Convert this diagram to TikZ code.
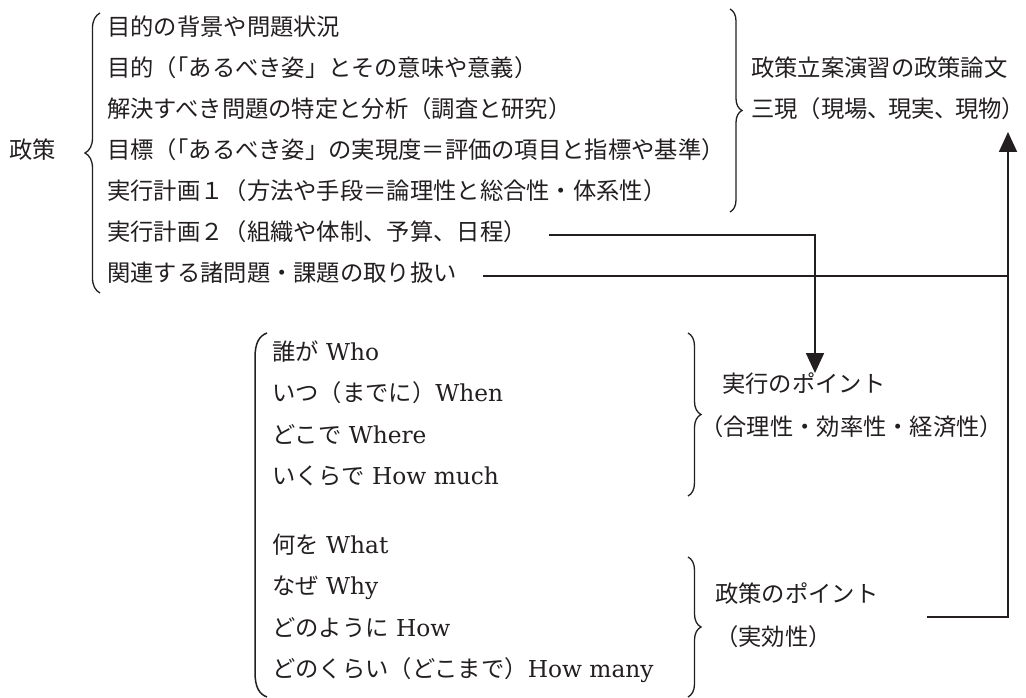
\documentclass[tikz,border=0pt]{standalone}
\usepackage{fontspec}
\setmainfont{DejaVu Serif}
\newfontfamily\jp{Noto Sans CJK JP}
\usetikzlibrary{arrows.meta,decorations.pathreplacing}
\definecolor{ink}{RGB}{35,31,32}
\begin{document}
\begin{tikzpicture}[x=1pt,y=-1pt,
  txt/.style={inner sep=0pt, anchor=west, text height=1.15em, text depth=0.1em,
    font=\fontsize{23.3}{27}\selectfont, text=ink},
  conn/.style={draw=ink, line width=1.7pt},
  arr/.style={conn, -{Triangle[length=20pt,width=18pt]}},
  brc/.style={draw=ink, line width=1.3pt, decorate, decoration={brace, amplitude=#1}},
  paren/.style={draw=ink, line width=1.5pt}
]
\fill[white] (0,0) rectangle (1026,698);
\useasboundingbox (0,0) rectangle (1026,698);

% top block
\node[txt] (seisaku) at (9,153) {\jp 政策};
\node[txt] (l1) at (107,30) {\jp 目的の背景や問題状況};
\node[txt] (l2) at (107,71) {\jp 目的（\kern-0.5em「あるべき姿」とその意味や意義）};
\node[txt] (l3) at (107,112) {\jp 解決すべき問題の特定と分析（調査と研究）};
\node[txt] (l4) at (107,153) {\jp 目標（\kern-0.5em「あるべき姿」の実現度＝評価の項目と指標や基準）};
\node[txt] (l5) at (107,194) {\jp 実行計画１（方法や手段＝論理性と総合性・体系性）};
\node[txt] (l6) at (107,235) {\jp 実行計画２（組織や体制、予算、日程）};
\node[txt] (l7) at (107,276) {\jp 関連する諸問題・課題の取り扱い};

\node[txt] (r1) at (751,71) {\jp 政策立案演習の政策論文};
\node[txt] (r2) at (751,112) {\jp 三現（現場、\kern-0.12em 現実、\kern-0.12em 現物\makebox[0.5em][l]{）}};

\draw[brc=15] (100,293) -- (100,13);
\draw[brc=12] (730,9) -- (730,212);

% middle block
\node[txt] (m1) at (272,355) {{\jp 誰が} Who};
\node[txt] (m2) at (272,396.5) {{\jp いつ（までに）}When};
\node[txt] (m3) at (272,438) {{\jp どこで} Where};
\node[txt] (m4) at (272,479) {{\jp いくらで} How much};
\node[txt] (m5) at (272,548) {{\jp 何を} What};
\node[txt] (m6) at (272,589.5) {{\jp なぜ} Why};
\node[txt] (m7) at (272,631) {{\jp どのように} How};
\node[txt] (m8) at (272,672.5) {{\jp どのくらい（どこまで）}How many};

\node[txt] (p1) at (722,387) {\jp 実行のポイント};
\node[txt] (p1b) at (700,430) {\jp （合理性・効率性・経済性）};
\node[txt] (p2) at (715,597) {\jp 政策のポイント};
\node[txt] (p2b) at (715,640) {\jp （実効性）};

\draw[paren] (267,333) .. controls (259,336) and (255,343) .. (255,358) -- (255,672)
  .. controls (255,687) and (259,694) .. (267,697);
\draw[brc=13] (688,333) -- (688,496);
\draw[brc=13] (688,557) -- (688,697);

% connectors
\coordinate (jx1) at (815,0);
\coordinate (jx2) at (1008,0);
\coordinate (s2) at (927,617);
\draw[arr] ([xshift=22pt]l6.east) -| ([yshift=14pt]jx1 |- p1.center);
\draw[conn] ([xshift=26.5pt]l7.east) -- (l7.east -| jx2);
\draw[arr] (s2) -| ([yshift=-20pt]jx2 |- r2.center);
\end{tikzpicture}
\end{document}
